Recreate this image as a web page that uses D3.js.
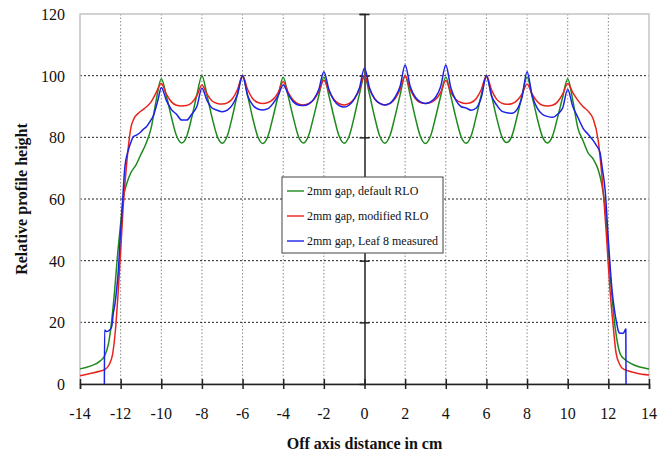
<!DOCTYPE html>
<html>
<head>
<meta charset="utf-8">
<script src="https://cdn.jsdelivr.net/npm/d3@7"></script>
<style>
    body { margin: 0; background: #ffffff; }
</style>
</head>
<body>
<svg id="SVG_CONTAINER" width="659" height="455"></svg>
<script>
// ticks
const xTicks = [-14, -12, -10, -8, -6, -4, -2, 0, 2, 4, 6, 8, 10, 12, 14];
const yTicks = [0, 20, 40, 60, 80, 100, 120];

const seriesNames = ["2mm gap, default RLO", "2mm gap, modified RLO", "2mm gap, Leaf 8 measured"];

// [off axis distance, relative height]
const defaultRLO = [
    [-14, 4.9], [-13.5, 5.8], [-13, 7.5], [-12.8, 9], [-12.6, 13], [-12.45, 20], [-12.3, 30],
    [-12.15, 42], [-12, 52], [-11.88, 60], [-11.7, 65], [-11.5, 68.5], [-11.25, 71], [-11, 74.5],
    [-10.75, 78], [-10.5, 83], [-10.25, 92],
    [-10, 99], [-9.75, 93.5], [-9.5, 86.5], [-9.25, 80.5], [-9, 78.2], [-8.75, 80.3], [-8.5, 86.5], [-8.25, 93.8],
    [-8, 100], [-7.75, 93.6], [-7.5, 86.4], [-7.25, 80.4], [-7, 78.1], [-6.75, 80.5], [-6.5, 86.8], [-6.25, 94],
    [-6, 100], [-5.75, 93.5], [-5.5, 86.2], [-5.25, 80.2], [-5, 78], [-4.75, 80.4], [-4.5, 86.6], [-4.25, 93.4],
    [-4, 99.5], [-3.75, 93.2], [-3.5, 86.3], [-3.25, 80.3], [-3, 78.2], [-2.75, 80.6], [-2.5, 86.7], [-2.25, 93.5],
    [-2, 99.6], [-1.75, 93.5], [-1.5, 86.5], [-1.25, 80.4], [-1, 78.1], [-0.75, 80.5], [-0.5, 86.8], [-0.25, 94],
    [0, 100], [0.25, 93.8], [0.5, 86.5], [0.75, 80.4], [1, 78.1], [1.25, 80.5], [1.5, 86.7], [1.75, 93.7],
    [2, 100], [2.25, 93.6], [2.5, 86.4], [2.75, 80.3], [3, 78], [3.25, 80.4], [3.5, 86.6], [3.75, 93.4],
    [4, 99.6], [4.25, 93.3], [4.5, 86.3], [4.75, 80.3], [5, 78.1], [5.25, 80.5], [5.5, 86.8], [5.75, 93.8],
    [6, 100], [6.25, 93.6], [6.5, 86.4], [6.75, 80.4], [7, 78.3], [7.25, 80.4], [7.5, 86.5], [7.75, 93.5],
    [8, 99.6], [8.25, 93.2], [8.5, 86.2], [8.75, 80.3], [9, 78.2], [9.25, 80.4], [9.5, 86.4], [9.75, 93],
    [10, 99], [10.25, 92], [10.5, 83], [10.75, 79], [11, 75], [11.25, 73], [11.5, 69.5], [11.67, 65],
    [11.84, 57.5], [12.08, 36], [12.33, 18.6], [12.57, 10], [12.8, 8], [13.07, 6.8], [13.5, 5.6], [14, 4.9]
];

const modifiedRLO = [
    [-14, 2.7], [-13.5, 3.4], [-13, 4.2], [-12.75, 4.8], [-12.55, 6.5], [-12.4, 9.5], [-12.25, 18],
    [-12.12, 30], [-12, 43], [-11.88, 57], [-11.75, 68], [-11.62, 77], [-11.5, 83], [-11.35, 86],
    [-11.1, 88], [-10.8, 89.5], [-10.5, 91.5], [-10.25, 94.5],
    [-10, 97.5], [-9.75, 94], [-9.5, 91.5], [-9.25, 90.4], [-9, 90.2], [-8.75, 90.3], [-8.5, 91.2], [-8.25, 93.5],
    [-8, 97], [-7.75, 94], [-7.5, 91.8], [-7.25, 91], [-7, 90.8], [-6.75, 91.2], [-6.5, 92.5], [-6.25, 95.5],
    [-6, 100], [-5.75, 95.5], [-5.5, 92.5], [-5.25, 91.3], [-5, 91], [-4.75, 91.3], [-4.5, 92.3], [-4.25, 94.5],
    [-4, 98], [-3.75, 94.5], [-3.5, 92], [-3.25, 90.8], [-3, 90.5], [-2.75, 90.9], [-2.5, 92.2], [-2.25, 94.8],
    [-2, 98.5], [-1.75, 95], [-1.5, 92.3], [-1.25, 90.9], [-1, 90.5], [-0.75, 91], [-0.5, 92.5], [-0.25, 95.5],
    [0, 100], [0.25, 95.5], [0.5, 92.5], [0.75, 91], [1, 90.5], [1.25, 91], [1.5, 92.5], [1.75, 95.5],
    [2, 100], [2.25, 95.5], [2.5, 92.6], [2.75, 91.3], [3, 91], [3.25, 91.3], [3.5, 92.3], [3.75, 94.6],
    [4, 98.4], [4.25, 94.6], [4.5, 92.3], [4.75, 91.3], [5, 91], [5.25, 91.3], [5.5, 92.6], [5.75, 95.5],
    [6, 100], [6.25, 95.4], [6.5, 92.4], [6.75, 91.1], [7, 90.7], [7.25, 90.9], [7.5, 91.9], [7.75, 94],
    [8, 97.3], [8.25, 94], [8.5, 91.6], [8.75, 90.4], [9, 90.2], [9.25, 90.4], [9.5, 91.5], [9.75, 94],
    [10, 97.5], [10.25, 94.5], [10.5, 92], [10.75, 90], [11, 88.5], [11.25, 86], [11.5, 79], [11.67, 68.4],
    [11.8, 58], [11.92, 46.7], [12.08, 30.5], [12.21, 20.8], [12.38, 10], [12.55, 6.5], [12.67, 5.2],
    [13, 4.2], [13.4, 3.5], [14, 2.9]
];

const leaf8Measured = [
    [-12.8, 0], [-12.79, 17.5], [-12.7, 17], [-12.6, 17.2], [-12.5, 17.8], [-12.44, 18.6], [-12.36, 23],
    [-12.28, 26], [-12.2, 30.5], [-12.1, 38], [-12.03, 46.7], [-11.95, 54], [-11.9, 59.7], [-11.79, 70.5],
    [-11.62, 75.9], [-11.46, 79], [-11.38, 80.2], [-11.2, 80.8], [-11.05, 81.5], [-10.9, 82.5], [-10.72, 83.5],
    [-10.55, 85.2], [-10.39, 87], [-10.25, 90], [-10.15, 92.5],
    [-10, 96.2], [-9.75, 92], [-9.5, 89], [-9.25, 87.5], [-9, 85.6], [-8.75, 85.6], [-8.5, 87.5], [-8.25, 90],
    [-8, 95.9], [-7.75, 92], [-7.5, 89.5], [-7.25, 88.8], [-7, 88.3], [-6.75, 88.8], [-6.5, 90.5], [-6.25, 94],
    [-6, 100], [-5.75, 93.5], [-5.5, 90.5], [-5.25, 89.2], [-5, 88.9], [-4.75, 89.3], [-4.5, 91], [-4.25, 93.5],
    [-4, 97], [-3.75, 94], [-3.5, 91.5], [-3.25, 90.5], [-3, 90.3], [-2.75, 90.8], [-2.5, 92.3], [-2.25, 95.5],
    [-2, 101.3], [-1.75, 95.5], [-1.5, 92], [-1.25, 90.3], [-1, 89.8], [-0.75, 90.5], [-0.5, 92.5], [-0.25, 96],
    [0, 102.5], [0.25, 96], [0.5, 92.5], [0.75, 91], [1, 90.5], [1.25, 91], [1.5, 93], [1.75, 96.5],
    [2, 103.5], [2.25, 96.5], [2.5, 93], [2.75, 91.5], [3, 91], [3.25, 91.5], [3.5, 93], [3.75, 96.5],
    [4, 103.5], [4.25, 96], [4.5, 92], [4.75, 90], [5, 89.5], [5.25, 88.8], [5.5, 89.5], [5.75, 93],
    [6, 100], [6.25, 93.5], [6.5, 90.5], [6.75, 88.5], [7, 88], [7.25, 87.8], [7.5, 89], [7.75, 93],
    [8, 101.3], [8.25, 93.5], [8.5, 89.5], [8.75, 87.5], [9, 86.8], [9.25, 86.5], [9.5, 87.5], [9.75, 89.5],
    [10, 95.5], [10.25, 90], [10.5, 86.5], [10.75, 83], [11, 81], [11.25, 79], [11.4, 77.5], [11.59, 75],
    [11.7, 70], [11.84, 63], [12, 46.7], [12.18, 30.5], [12.3, 24], [12.41, 19.7], [12.5, 17], [12.57, 16.5],
    [12.74, 16.5], [12.86, 17.8], [12.87, 0]
];

const seriesData = [defaultRLO, modifiedRLO, leaf8Measured];
const seriesColors = ["#1e8a1e", "#e8241c", "#1c22e6"];

const FONT = "'Liberation Serif', 'Times New Roman', serif";
const MARGIN = { "LEFT": 80, "RIGHT": 10, "TOP": 14, "BOTTOM": 71 };
const width = 659, height = 455;

let svg = d3.select("#SVG_CONTAINER");

//** SCALES *****************************************
let xScale = d3.scaleLinear()
    .domain([-14, 14])
    .range([MARGIN.LEFT, width - MARGIN.RIGHT]);

let yScale = d3.scaleLinear()
    .domain([0, 120])
    .range([height - MARGIN.BOTTOM, MARGIN.TOP]);

let x0 = xScale(-14), x1 = xScale(14), yTop = yScale(120), yBot = yScale(0);

//** GRID *****************************************
// vertical grey dotted lines
svg.append("g")
    .selectAll("line")
    .data(xTicks.filter(d => d !== 0 && d !== -14 && d !== 14))
    .enter()
    .append("line")
    .attr("x1", d => xScale(d)).attr("x2", d => xScale(d))
    .attr("y1", yTop).attr("y2", yBot)
    .attr("stroke", "#8a8a8a")
    .attr("stroke-width", 1)
    .attr("stroke-dasharray", "1.5,2");

// horizontal black dotted lines
svg.append("g")
    .selectAll("line")
    .data(yTicks.filter(d => d !== 0 && d !== 120))
    .enter()
    .append("line")
    .attr("x1", x0).attr("x2", x1)
    .attr("y1", d => yScale(d)).attr("y2", d => yScale(d))
    .attr("stroke", "#222")
    .attr("stroke-width", 1)
    .attr("stroke-dasharray", "2,2");

// frame of the plot area
svg.append("rect")
    .attr("x", x0).attr("y", yTop)
    .attr("width", x1 - x0).attr("height", yBot - yTop)
    .attr("fill", "none")
    .attr("stroke", "#c4c4c4")
    .attr("stroke-width", 1.5);

//** AXES *****************************************
// x axis along 0 with ticks crossing both sides
let xAxis = d3.axisBottom(xScale).tickValues(xTicks).tickSize(5).tickFormat("");
let gx = svg.append("g")
    .attr("transform", "translate(0," + yBot + ")")
    .call(xAxis);
gx.select(".domain").attr("stroke", "#222").attr("stroke-width", 1.5);
gx.selectAll(".tick line").attr("y1", -5).attr("stroke", "#222").attr("stroke-width", 1.5);

// y axis drawn at x = 0
let yAxis = d3.axisLeft(yScale).tickValues(yTicks.filter(d => d > 0)).tickSize(5).tickFormat("");
let gy = svg.append("g")
    .attr("transform", "translate(" + xScale(0) + ",0)")
    .call(yAxis);
gy.select(".domain").attr("stroke", "#222").attr("stroke-width", 1.5);
gy.selectAll(".tick line").attr("x2", -5).attr("x1", 5).attr("stroke", "#222").attr("stroke-width", 1.5);

// tick labels
svg.append("g")
    .selectAll("text")
    .data(xTicks)
    .enter()
    .append("text")
    .attr("x", d => xScale(d))
    .attr("y", yBot + 35)
    .attr("text-anchor", "middle")
    .attr("font-family", FONT)
    .attr("font-size", 16)
    .attr("fill", "#111")
    .text(d => d);

svg.append("g")
    .selectAll("text")
    .data(yTicks)
    .enter()
    .append("text")
    .attr("x", 65)
    .attr("y", d => yScale(d) + 6)
    .attr("text-anchor", "end")
    .attr("font-family", FONT)
    .attr("font-size", 16)
    .attr("fill", "#111")
    .text(d => d);

// axis titles
svg.append("text")
    .attr("x", (x0 + x1) / 2)
    .attr("y", 449)
    .attr("text-anchor", "middle")
    .attr("font-family", FONT)
    .attr("font-size", 16)
    .attr("font-weight", "bold")
    .attr("fill", "#111")
    .text("Off axis distance in cm");

svg.append("text")
    .attr("transform", "translate(27," + 199 + ") rotate(-90)")
    .attr("text-anchor", "middle")
    .attr("font-family", FONT)
    .attr("font-size", 16)
    .attr("font-weight", "bold")
    .attr("fill", "#111")
    .text("Relative profile height");

//** LINES *****************************************
let line = d3.line()
    .x(d => xScale(d[0]))
    .y(d => yScale(d[1]))
    .curve(d3.curveMonotoneX);

svg.append("g")
    .selectAll("path")
    .data(seriesData)
    .enter()
    .append("path")
    .attr("d", d => line(d))
    .attr("fill", "none")
    .attr("stroke", (d, i) => seriesColors[i])
    .attr("stroke-width", 1.5)
    .attr("stroke-linejoin", "round");

//** LEGEND *****************************************
let legend = svg.append("g").attr("transform", "translate(282,177)");
legend.append("rect")
    .attr("width", 161).attr("height", 76)
    .attr("fill", "#fff")
    .attr("stroke", "#444")
    .attr("stroke-width", 1);

seriesNames.forEach(function (name, i) {
    let ly = 14 + i * 25;
    legend.append("line")
        .attr("x1", 5).attr("x2", 22)
        .attr("y1", ly).attr("y2", ly)
        .attr("stroke", seriesColors[i])
        .attr("stroke-width", 1.4);
    legend.append("text")
        .attr("x", 25)
        .attr("y", ly + 4)
        .attr("font-family", FONT)
        .attr("font-size", 12)
        .attr("fill", "#111")
        .text(name);
});
</script>
</body>
</html>
